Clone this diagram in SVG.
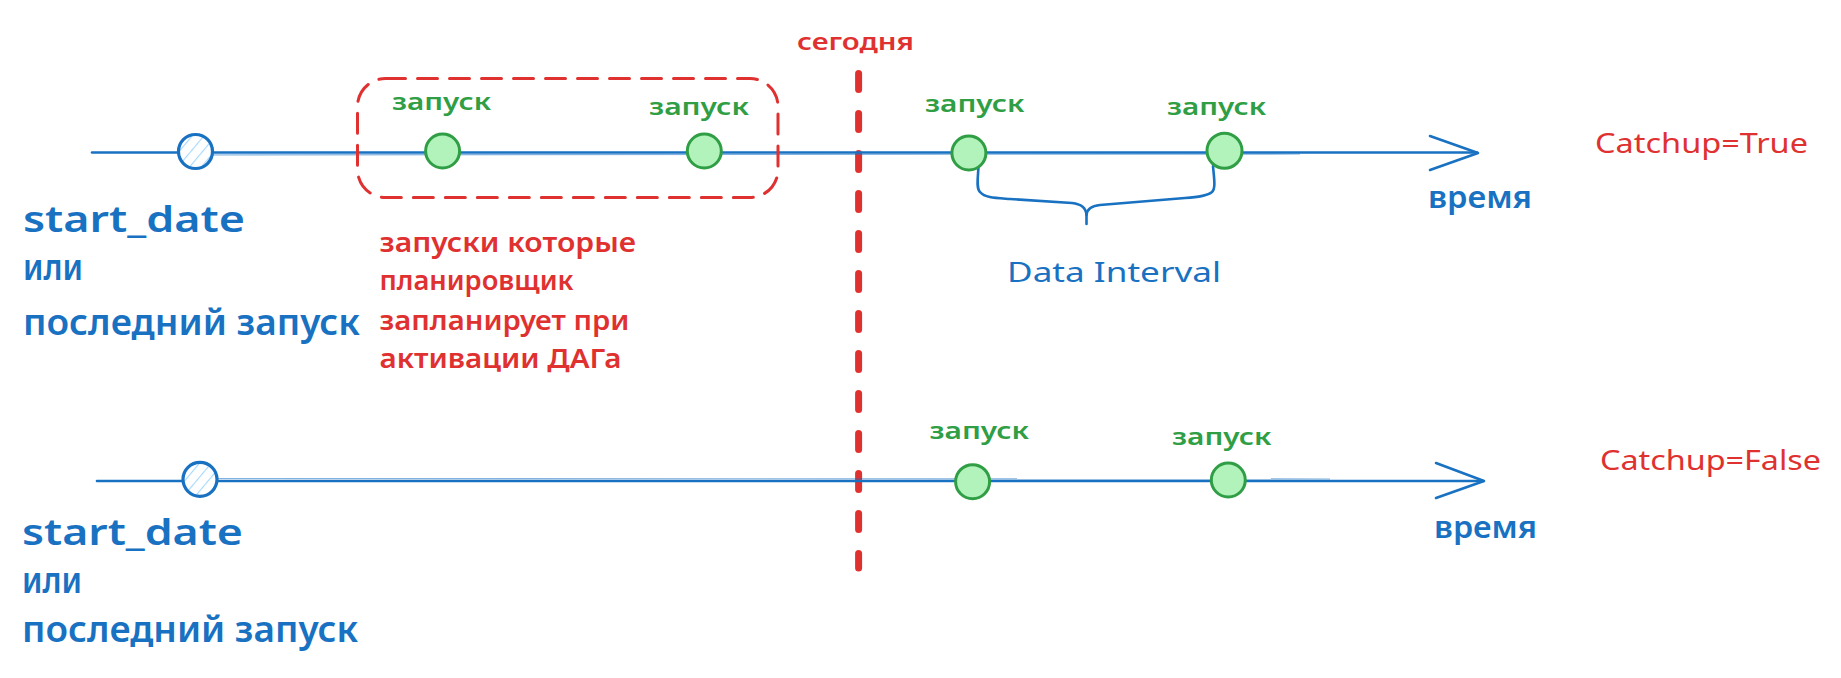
<svg xmlns="http://www.w3.org/2000/svg" width="1841" height="678" viewBox="0 0 1841 678">
<style>
  text { font-family: "Noto Sans", "Open Sans", "DejaVu Sans", sans-serif; font-weight: 600; }
  .blue { fill: #1971c2; }
  .red { fill: #e03131; }
  .green { fill: #2f9e44; }
  .lbl { font-size: 24px; }
  .big { font-size: 36px; }
  .mid { font-size: 27px; }
  .time { font-size: 31px; }
  .axis { stroke: #1971c2; stroke-width: 2.6; fill: none; stroke-linecap: round; stroke-linejoin: round; }
  .axis2 { stroke: #1971c2; stroke-width: 1.2; fill: none; opacity: 0.55; }
  .run { fill: #b2f2bb; stroke: #2f9e44; stroke-width: 3; }
  .start { fill: url(#hatch); stroke: #1971c2; stroke-width: 3.2; }
  .today { stroke: #e03131; stroke-width: 7; stroke-linecap: round; stroke-dasharray: 16 24; fill: none; }
  .group { stroke: #e03131; stroke-width: 3; fill: none; stroke-dasharray: 20 12; stroke-linecap: round; }
</style>
<defs>
  <pattern id="hatch" patternUnits="userSpaceOnUse" width="9" height="9" patternTransform="rotate(40)">
    <rect width="9" height="9" fill="#ffffff"/>
    <line x1="0" y1="0" x2="0" y2="9" stroke="#a5d8ff" stroke-width="2.2"/>
  </pattern>
</defs>
<rect width="1841" height="678" fill="#ffffff"/>

<g id="today-line">
  <line class="today" x1="858.6" y1="73.5" x2="858.6" y2="568"/>
  <text class="red lbl" x="797" y="50" textLength="117" lengthAdjust="spacingAndGlyphs">сегодня</text>
</g>

<g id="connectors">
  <!-- top timeline -->
  <line class="axis" x1="92" y1="152.5" x2="1477" y2="152.5"/>
  <line class="axis2" x1="180" y1="155" x2="1300" y2="154"/>
  <path class="axis" d="M1430,136 L1478,153 L1430,170"/>
  <!-- bottom timeline -->
  <line class="axis" x1="97" y1="481" x2="1483" y2="481"/>
  <line class="axis2" x1="200" y1="478.5" x2="1330" y2="479"/>
  <path class="axis" d="M1436,463 L1484,481 L1436,498"/>
  <!-- data interval brace -->
  <path class="axis" d="M978.5,166 C978,178 976,188 980,192 C985,198 995,198 1010,199 L1072,203 C1082,204 1086,208 1086.5,215 L1086.5,224"/>
  <path class="axis" d="M1213,166 C1214,178 1216,188 1212,192 C1207,196 1198,197 1185,198 L1100,205 C1091,206 1087,209 1086.5,215"/>
</g>

<g id="group-box">
  <rect class="group" x="357.5" y="78.5" width="420.5" height="119" rx="28" ry="28"/>
  <text class="red mid" x="379.5" y="251.5" textLength="256.5" lengthAdjust="spacingAndGlyphs">запуски которые</text>
  <text class="red mid" x="379.5" y="290" textLength="194" lengthAdjust="spacingAndGlyphs">планировщик</text>
  <text class="red mid" x="379.5" y="330" textLength="250" lengthAdjust="spacingAndGlyphs">запланирует при</text>
  <text class="red mid" x="379.5" y="368" textLength="242" lengthAdjust="spacingAndGlyphs">активации ДАГа</text>
</g>

<g id="start-top">
  <circle class="start" cx="195.5" cy="151.5" r="17"/>
  <text class="blue big" x="23" y="232" textLength="222" lengthAdjust="spacingAndGlyphs">start_date</text>
  <text class="blue big" x="23" y="280" textLength="60" lengthAdjust="spacingAndGlyphs">или</text>
  <text class="blue big" x="23" y="335" textLength="337" lengthAdjust="spacingAndGlyphs">последний запуск</text>
</g>

<g id="run-top-1">
  <circle class="run" cx="442.6" cy="151" r="17"/>
  <text class="green lbl" x="392" y="110" textLength="99" lengthAdjust="spacingAndGlyphs">запуск</text>
</g>
<g id="run-top-2">
  <circle class="run" cx="704.3" cy="151" r="17"/>
  <text class="green lbl" x="649" y="115" textLength="100" lengthAdjust="spacingAndGlyphs">запуск</text>
</g>
<g id="run-top-3">
  <circle class="run" cx="968.9" cy="153" r="17"/>
  <text class="green lbl" x="925" y="112" textLength="99.5" lengthAdjust="spacingAndGlyphs">запуск</text>
</g>
<g id="run-top-4">
  <circle class="run" cx="1224.5" cy="150.7" r="17.5"/>
  <text class="green lbl" x="1167" y="115" textLength="99" lengthAdjust="spacingAndGlyphs">запуск</text>
</g>

<g id="data-interval">
  <text class="blue mid" x="1007" y="282" textLength="214" lengthAdjust="spacingAndGlyphs" style="font-weight:400">Data Interval</text>
</g>

<g id="time-top">
  <text class="blue time" x="1428" y="208" textLength="104" lengthAdjust="spacingAndGlyphs">время</text>
</g>
<g id="catchup-true">
  <text class="red mid" x="1595" y="153" textLength="213" lengthAdjust="spacingAndGlyphs" style="font-weight:400">Catchup=True</text>
</g>

<g id="start-bottom">
  <circle class="start" cx="200" cy="479.3" r="17"/>
  <text class="blue big" x="22" y="545" textLength="221" lengthAdjust="spacingAndGlyphs">start_date</text>
  <text class="blue big" x="22" y="593" textLength="60" lengthAdjust="spacingAndGlyphs">или</text>
  <text class="blue big" x="22" y="641.5" textLength="336" lengthAdjust="spacingAndGlyphs">последний запуск</text>
</g>

<g id="run-bottom-1">
  <circle class="run" cx="972.6" cy="481.7" r="17"/>
  <text class="green lbl" x="929.5" y="439" textLength="99.5" lengthAdjust="spacingAndGlyphs">запуск</text>
</g>
<g id="run-bottom-2">
  <circle class="run" cx="1228.3" cy="480" r="17"/>
  <text class="green lbl" x="1172" y="445" textLength="99.5" lengthAdjust="spacingAndGlyphs">запуск</text>
</g>

<g id="time-bottom">
  <text class="blue time" x="1434" y="538" textLength="103" lengthAdjust="spacingAndGlyphs">время</text>
</g>
<g id="catchup-false">
  <text class="red mid" x="1600" y="470" textLength="221" lengthAdjust="spacingAndGlyphs" style="font-weight:400">Catchup=False</text>
</g>
</svg>
